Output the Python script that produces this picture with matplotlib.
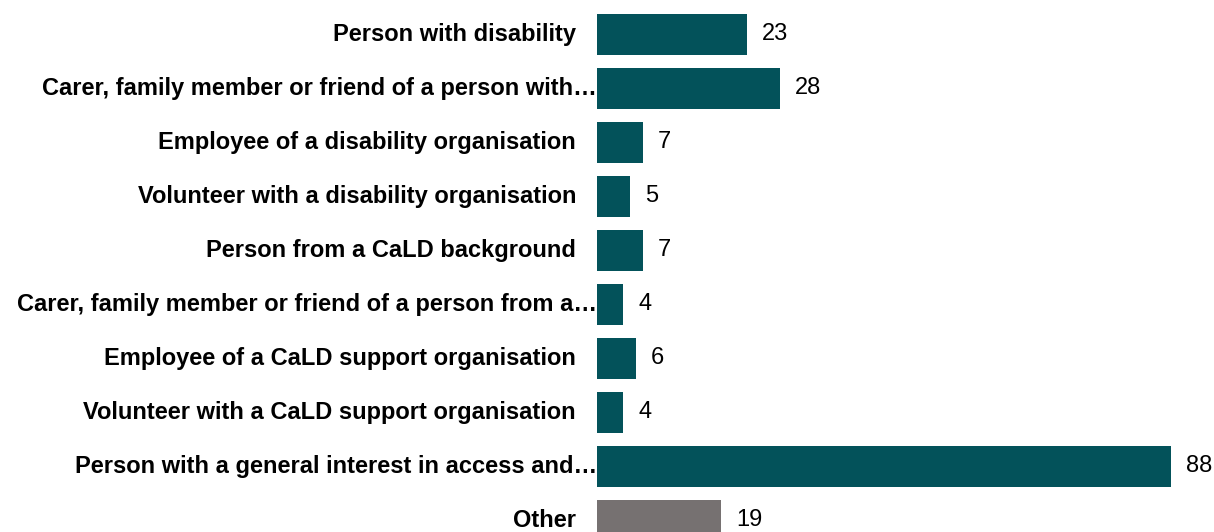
import matplotlib.pyplot as plt
import numpy as np

plt.rcParams['font.family'] = ['Liberation Sans', 'DejaVu Sans']

# respondent groups (long names shortened with an ellipsis)
labels = [
    "Person with disability",
    "Carer, family member or friend of a person with…",
    "Employee of a disability organisation",
    "Volunteer with a disability organisation",
    "Person from a CaLD background",
    "Carer, family member or friend of a person from a…",
    "Employee of a CaLD support organisation",
    "Volunteer with a CaLD support organisation",
    "Person with a general interest in access and…",
    "Other",
]
counts = [23, 28, 7, 5, 7, 4, 6, 4, 88, 19]
bar_colors = ["#03525A"] * 9 + ["#767171"]

W, H = 1214, 532
fig = plt.figure(figsize=(W / 100, H / 100), dpi=100)
ax_left = 597
ax = fig.add_axes([ax_left / W, 0, (W - ax_left) / W, 1])

px_per_unit = (1171 - ax_left) / 88
row_px = 54
y = np.arange(len(labels))

ax.barh(y, counts, height=41 / row_px, color=bar_colors)
ax.set_xlim(0, (W - ax_left) / px_per_unit)
ax.set_ylim(len(labels) - 1 + (H - 520) / row_px, -34.5 / row_px)
ax.axis("off")

for yi, (lab, val) in enumerate(zip(labels, counts)):
    # truncated labels run right up to the bar
    off = 0 if lab.endswith("…") else 21
    ax.annotate(lab, xy=(0, yi), xytext=(-off, 0), textcoords="offset pixels",
                ha="right", va="center", fontsize=17, fontweight="bold")
    ax.annotate(str(val), xy=(val, yi), xytext=(15, 0), textcoords="offset pixels",
                ha="left", va="center", fontsize=17)

fig.savefig("out.png", dpi=100)
